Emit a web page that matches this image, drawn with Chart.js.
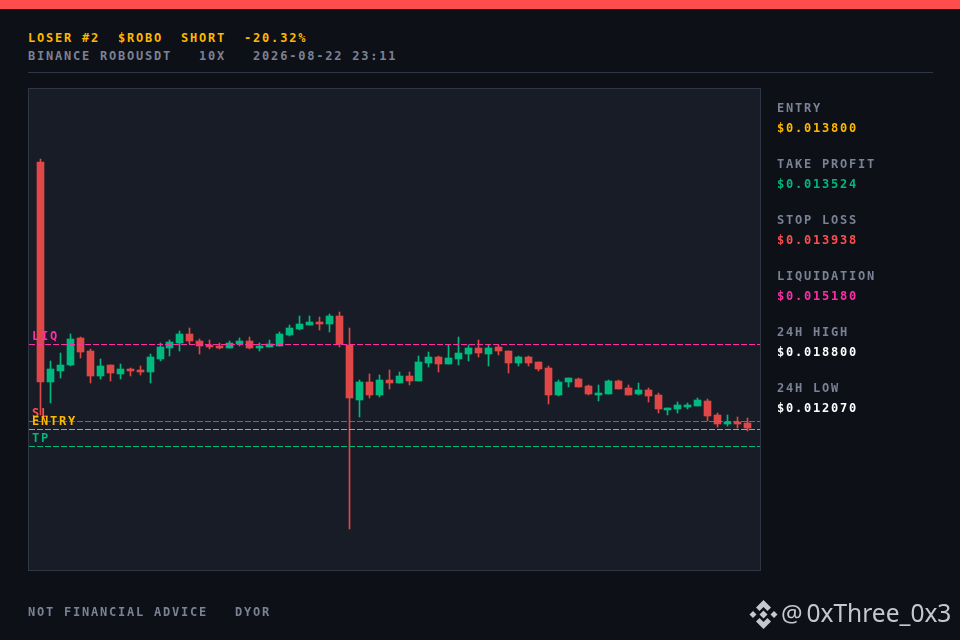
<!DOCTYPE html>
<html>
<head>
<meta charset="utf-8">
<title>ROBO short</title>
<script src="https://cdn.jsdelivr.net/npm/chart.js@4/dist/chart.umd.min.js"></script>
<style>
  html, body { margin: 0; padding: 0; width: 960px; height: 640px; overflow: hidden; background: #0d1017; }
  .t { position: absolute; white-space: pre; font: bold 12px/12px "DejaVu Sans Mono", monospace; letter-spacing: 1.78px; color: #7a8294; }
  #bar { position: absolute; left: 0; top: 0; width: 960px; height: 9px; background: #ff4d4d; }
  #rule { position: absolute; left: 28px; top: 72px; width: 905px; height: 1px; background: #2f3644; }
  #box { position: absolute; left: 28px; top: 88px; width: 731px; height: 481px; background: #171c26; border: 1px solid #2f3644; }
  #c { position: absolute; left: 0; top: 0; }
  #mark { position: absolute; left: 806.5px; top: 598px; font: 24.5px/30px "Noto Sans", sans-serif; color: #c6c8cc; white-space: pre; }
  #at { position: absolute; left: 781px; top: 598px; font: 24px/30px "Noto Sans", sans-serif; color: #c6c8cc; }
  #logo { position: absolute; left: 749px; top: 600px; }
</style>
</head>
<body>
<div id="bar"></div>
<div class="t" style="left:28px;top:32px;color:#ffb800">LOSER #2  $ROBO  SHORT  -20.32%</div>
<div class="t" style="left:28px;top:50px">BINANCE ROBOUSDT   10X   2026-08-22 23:11</div>
<div id="rule"></div>
<div id="box"></div>
<canvas id="c" width="960" height="640"></canvas>
<div id="panel"></div>
<div class="t" style="left:28px;top:606px">NOT FINANCIAL ADVICE   DYOR</div>
<svg id="logo" width="29" height="29" viewBox="0 0 29 29" fill="#c6c8cc">
  <polygon points="14.5,0 22,7.5 18.5,11 14.5,7 10.5,11 7,7.5"/>
  <polygon points="14.5,29 22,21.5 18.5,18 14.5,22 10.5,18 7,21.5"/>
  <polygon points="4,11 7.5,14.5 4,18 0.5,14.5"/>
  <polygon points="25,11 28.5,14.5 25,18 21.5,14.5"/>
  <polygon points="14.5,10.5 18.5,14.5 14.5,18.5 10.5,14.5"/>
</svg>
<div id="at">@</div>
<div id="mark">0xThree_0x3</div>
<script>
const opens = [
  0.018126, 0.014575, 0.014752, 0.014849, 0.015285, 0.015075, 0.014672, 0.014849, 0.014704, 0.014785, 0.014768, 0.014736,
  0.014946, 0.015123, 0.015204, 0.015349, 0.015236, 0.015172, 0.015156, 0.015123, 0.015188, 0.015236, 0.015123, 0.015140,
  0.015156, 0.015333, 0.015430, 0.015495, 0.015543, 0.015511, 0.015640, 0.015172, 0.014284, 0.014575, 0.014365, 0.014607,
  0.014559, 0.014672, 0.014591, 0.014881, 0.014978, 0.014865, 0.014946, 0.015027, 0.015123, 0.015027, 0.015140, 0.015075,
  0.014881, 0.014978, 0.014898, 0.014801, 0.014365, 0.014575, 0.014623, 0.014510, 0.014365, 0.014381, 0.014591, 0.014478,
  0.014381, 0.014446, 0.014365, 0.014123, 0.014139, 0.014171, 0.014187, 0.014268, 0.014042, 0.013897, 0.013929, 0.013913
];
const highs = [
  0.018174, 0.014914, 0.015043, 0.015349, 0.015301, 0.015107, 0.014946, 0.014849, 0.014865, 0.014801, 0.014833, 0.015027,
  0.015204, 0.015253, 0.015398, 0.015446, 0.015269, 0.015253, 0.015204, 0.015236, 0.015285, 0.015301, 0.015204, 0.015253,
  0.015382, 0.015495, 0.015640, 0.015640, 0.015624, 0.015672, 0.015705, 0.015446, 0.014607, 0.014704, 0.014688, 0.014768,
  0.014736, 0.014736, 0.014994, 0.015059, 0.014994, 0.015172, 0.015301, 0.015172, 0.015253, 0.015172, 0.015172, 0.015075,
  0.014994, 0.014994, 0.014898, 0.014833, 0.014607, 0.014639, 0.014639, 0.014526, 0.014526, 0.014607, 0.014607, 0.014526,
  0.014559, 0.014478, 0.014397, 0.014155, 0.014252, 0.014236, 0.014316, 0.014300, 0.014074, 0.014042, 0.014010, 0.013994
];
const lows = [
  0.014042, 0.014236, 0.014639, 0.014833, 0.014962, 0.014559, 0.014623, 0.014591, 0.014623, 0.014672, 0.014688, 0.014559,
  0.014914, 0.014994, 0.015075, 0.015188, 0.015027, 0.015107, 0.015107, 0.015123, 0.015156, 0.015107, 0.015075, 0.015140,
  0.015156, 0.015317, 0.015414, 0.015495, 0.015414, 0.015382, 0.015140, 0.012202, 0.014010, 0.014316, 0.014333, 0.014462,
  0.014559, 0.014526, 0.014591, 0.014817, 0.014736, 0.014865, 0.014849, 0.014914, 0.014978, 0.014833, 0.015011, 0.014720,
  0.014833, 0.014833, 0.014752, 0.014220, 0.014349, 0.014494, 0.014494, 0.014365, 0.014268, 0.014381, 0.014462, 0.014365,
  0.014365, 0.014252, 0.014074, 0.014042, 0.014074, 0.014139, 0.014187, 0.013945, 0.013848, 0.013865, 0.013832, 0.013784
];
const closes = [
  0.014575, 0.014785, 0.014849, 0.015269, 0.015059, 0.014672, 0.014833, 0.014720, 0.014785, 0.014752, 0.014736, 0.014978,
  0.015140, 0.015220, 0.015349, 0.015236, 0.015156, 0.015140, 0.015123, 0.015204, 0.015236, 0.015123, 0.015156, 0.015188,
  0.015349, 0.015446, 0.015511, 0.015543, 0.015511, 0.015640, 0.015188, 0.014316, 0.014575, 0.014365, 0.014607, 0.014559,
  0.014672, 0.014591, 0.014898, 0.014978, 0.014865, 0.014962, 0.015043, 0.015123, 0.015043, 0.015123, 0.015075, 0.014881,
  0.014978, 0.014881, 0.014785, 0.014365, 0.014575, 0.014639, 0.014494, 0.014381, 0.014397, 0.014591, 0.014462, 0.014365,
  0.014446, 0.014349, 0.014139, 0.014155, 0.014204, 0.014204, 0.014284, 0.014026, 0.013897, 0.013929, 0.013897, 0.013832
];

const levelNames = ['SL', 'ENTRY', 'TP', 'LIQ'];
const levelValues = [0.013938, 0.013800, 0.013524, 0.015180];
const levelColors = ['#ff4d4d', '#ffb800', '#00b87a', '#ff2da6'];
const levelLineColors = ['rgba(255,77,77,0.8)', 'rgba(255,184,0,0.85)', '#00b87a', '#ff2da6'];

const statLabels = ['ENTRY', 'TAKE PROFIT', 'STOP LOSS', 'LIQUIDATION', '24H HIGH', '24H LOW'];
const statValues = ['$0.013800', '$0.013524', '$0.013938', '$0.015180', '$0.018800', '$0.012070'];
const statColors = ['#ffb800', '#00b87a', '#ff4d4d', '#ff2da6', '#ffffff', '#ffffff'];

const UP = '#00b97f';
const DOWN = '#e04848';
const FONT = 'bold 12px "DejaVu Sans Mono", monospace';

const panel = document.getElementById('panel');
statLabels.forEach((label, i) => {
    const a = document.createElement('div');
    a.className = 't';
    a.style.cssText = `left:777px;top:${102 + i * 56}px`;
    a.textContent = label;
    const b = document.createElement('div');
    b.className = 't';
    b.style.cssText = `left:777px;top:${122 + i * 56}px;color:${statColors[i]}`;
    b.textContent = statValues[i];
    panel.append(a, b);
});

const candleColors = closes.map((c, i) => c >= opens[i] ? UP : DOWN);
const X_MIN = -1.155;
const X_MAX = 72.24;

// snap elements to the pixel grid so candles and dashes stay crisp
const snapToPixels = {
    id: 'snapToPixels',
    beforeDatasetsDraw(chart) {
        chart.data.datasets.forEach((ds, i) => {
            chart.getDatasetMeta(i).data.forEach(el => {
                if (ds.type === 'line') {
                    el.y = Math.floor(el.y) + 0.5;
                } else {
                    el.x = Math.floor(el.x) + 0.5;
                    el.y = Math.round(el.y);
                    el.base = Math.round(el.base);
                }
            });
        });
    }
};

// level names sit just above their dashed lines
const levelLabels = {
    id: 'levelLabels',
    afterDatasetsDraw(chart) {
        const { ctx, scales } = chart;
        ctx.save();
        ctx.font = FONT;
        ctx.letterSpacing = '1.78px';
        ctx.textBaseline = 'alphabetic';
        levelNames.forEach((name, i) => {
            ctx.fillStyle = levelColors[i];
            ctx.fillText(name, 32, Math.floor(scales.y.getPixelForValue(levelValues[i])) - 4);
        });
        ctx.restore();
    }
};

new Chart(document.getElementById('c').getContext('2d'), {
    type: 'bar',
    data: {
        datasets: [
            {
                label: 'wick',
                data: highs.map((h, i) => ({ x: i, y: [lows[i], h] })),
                backgroundColor: candleColors,
                barThickness: 1,
                grouped: false,
                order: 3
            },
            {
                label: 'body',
                data: opens.map((o, i) => ({ x: i, y: [o, closes[i]] })),
                backgroundColor: candleColors,
                barThickness: 7,
                grouped: false,
                order: 2
            },
            ...levelValues.map((v, i) => ({
                type: 'line',
                label: levelNames[i],
                data: [{ x: X_MIN, y: v }, { x: X_MAX, y: v }],
                borderColor: levelLineColors[i],
                borderWidth: 1,
                borderDash: [6, 2],
                pointRadius: 0,
                order: 1
            }))
        ]
    },
    options: {
        responsive: false,
        animation: false,
        layout: { padding: { left: 29, right: 200, top: 89, bottom: 70 } },
        scales: {
            x: { type: 'linear', min: X_MIN, max: X_MAX, offset: false, display: false },
            y: { type: 'linear', min: 0.011536, max: 0.019299, display: false }
        },
        plugins: { legend: { display: false }, tooltip: { enabled: false } }
    },
    plugins: [snapToPixels, levelLabels]
});
</script>
</body>
</html>
